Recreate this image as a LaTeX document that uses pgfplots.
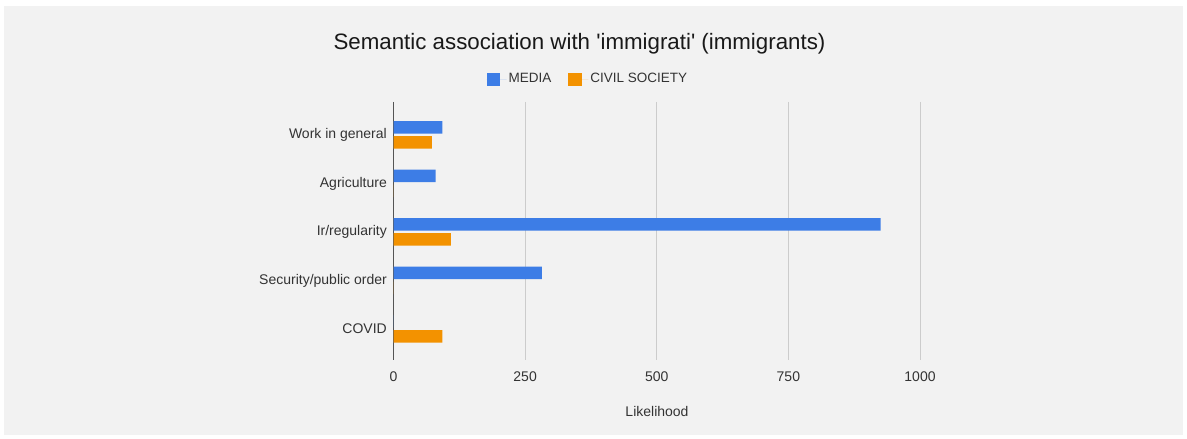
\documentclass[border=0pt]{standalone}
\usepackage{fontspec}
\setmainfont{Liberation Sans}[Ligatures=TeXOff]
\usepackage{pgfplots}
\pgfplotsset{compat=1.18}
\definecolor{media}{HTML}{3D7DE6}
\definecolor{civil}{HTML}{F39200}
\definecolor{panel}{HTML}{F2F2F2}
\definecolor{gridc}{HTML}{CCCCCC}
\definecolor{axisc}{HTML}{555555}
\definecolor{txt}{HTML}{333333}
\begin{document}
\begin{tikzpicture}[x=1bp,y=1bp]
\useasboundingbox (0,0) rectangle (1187,439);
\fill[white] (0,0) rectangle (1187,439);
\fill[panel] (4,4) rectangle (1183,433);
\begin{axis}[
  at={(393.5bp,79bp)}, anchor=south west,
  scale only axis, width=526.5bp, height=258bp,
  xmin=0, xmax=1000, ymin=-0.68, ymax=4.64, y dir=reverse,
  xtick={250,500,750,1000},
  extra x ticks={0},
  extra x tick style={grid style={color=axisc, line width=1.3bp}},
  ytick={0,1,2,3,4},
  yticklabels={Work in general,Agriculture,Ir/regularity,Security/public order,COVID},
  major tick length=0pt,
  axis line style={draw=none},
  xmajorgrids,
  grid style={color=gridc, line width=1bp},
  /pgf/number format/assume math mode=true,
  /pgf/number format/1000 sep={},
  tick label style={font=\fontsize{14bp}{16bp}\selectfont, text=txt},
  xticklabel style={inner sep=0pt, yshift=-12bp},
  yticklabel style={inner sep=0pt, xshift=-6.5bp},
  xbar, bar width=12.5bp,
  legend style={at={(0.3694,1.089)}, anchor=center, draw=none, fill=none,
    font=\fontsize{13.5bp}{15bp}\selectfont, text=txt,
    /tikz/every even column/.append style={column sep=15bp}},
  legend columns=2,
  legend cell align=left,
  legend image code/.code={\fill[#1] (0bp,-6.5bp) rectangle (13.5bp,6.5bp); \path (0bp,0bp) -- (20bp,0bp);},
]
\addplot[fill=media, draw=none, bar shift=7.5bp] coordinates {(93,0) (80,1) (925,2) (282,3) (0,4)};
\addplot[fill=civil, draw=none, bar shift=-7.5bp] coordinates {(73,0) (0,1) (109,2) (0,3) (93,4)};
\legend{MEDIA, CIVIL SOCIETY}
\end{axis}
\node[font=\fontsize{22.3bp}{26bp}\selectfont, text=black!90] at (579.5,395) {Semantic association with 'immigrati' (immigrants)};
\node[font=\fontsize{14bp}{16bp}\selectfont, text=txt] at (657,27) {Likelihood};
\end{tikzpicture}
\end{document}
